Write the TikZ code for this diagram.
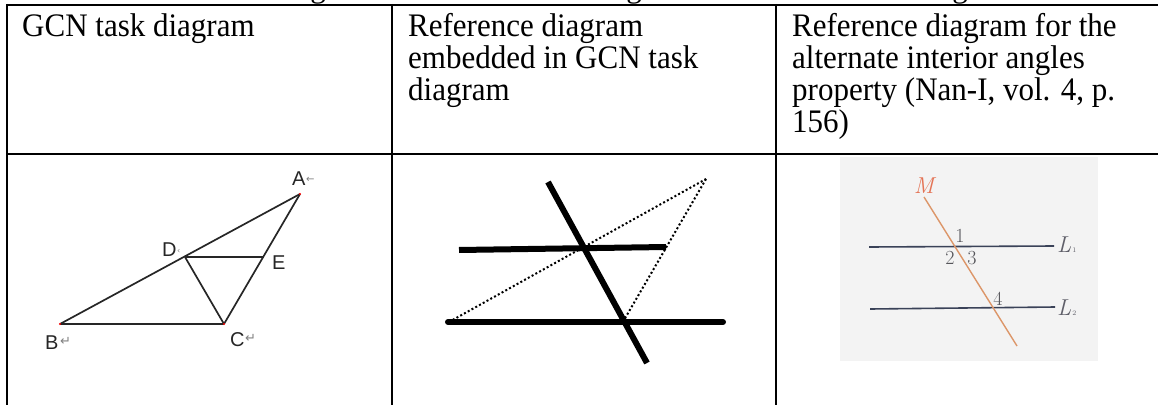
\documentclass[tikz,border=0pt]{standalone}
\usepackage{fontspec}
\setmainfont{Liberation Serif}
\newfontfamily\arialf{Liberation Sans}
\newfontfamily\djv{DejaVu Sans}
\newfontfamily\lmr{Latin Modern Roman}
\definecolor{bgpanel}{RGB}{243,243,243}
\definecolor{mline}{RGB}{220,150,105}
\definecolor{mlabel}{RGB}{228,115,85}
\definecolor{lline}{RGB}{58,66,88}
\definecolor{llabel}{RGB}{95,95,105}
\definecolor{numcol}{RGB}{85,85,90}
\begin{document}
\begin{tikzpicture}[x=1pt,y=-1pt,
  border/.style={line width=2.4pt,black},
  hdr/.style={anchor=base west,inner sep=0pt,font=\fontsize{31}{30}\selectfont,yscale=1.06},
  gline/.style={line width=1.7pt,draw=black!85},
  glabel/.style={inner sep=0pt,anchor=base west,font=\arialf\fontsize{20}{20}\selectfont,text=black!85},
  gmark/.style={inner sep=0pt,anchor=base west,font=\djv\fontsize{13}{13}\selectfont,text=black!50},
  thickbar/.style={line width=6pt,black},
  dotline/.style={line width=2pt,dash pattern=on 2pt off 2.3pt,black},
  pline/.style={line width=1.6pt,draw=lline},
  mdraw/.style={line width=1.4pt,draw=mline},
  numlab/.style={inner sep=0pt,anchor=base,font=\lmr\fontsize{20}{20}\selectfont,text=numcol},
  llab/.style={inner sep=0pt,anchor=base west,font=\lmr\itshape\fontsize{23}{23}\selectfont,text=llabel}
]
\useasboundingbox (0,0) rectangle (1158,404);
\begin{scope}
\clip (0,0) rectangle (1158,404);
% clipped descenders from the line above the table
\node[anchor=base,inner sep=0pt,font=\fontsize{31}{30}\selectfont] (g1) at (318,-2.5) {g};
\node[anchor=base,inner sep=0pt,font=\fontsize{31}{30}\selectfont] (g2) at (634,-2.5) {g};
\node[anchor=base,inner sep=0pt,font=\fontsize{31}{30}\selectfont] (g3) at (960,-2.5) {g};
% table rules
\draw[border] (6,5) -- (1170,5);
\draw[border] (6,154) -- (1170,154);
\draw[border] (7,4) -- (7,410);
\draw[border] (392,4) -- (392,410);
\draw[border] (776,4) -- (776,410);
\end{scope}

% header cells
\node[hdr] (h1) at (22,37) {\parbox[t]{360pt}{GCN task diagram}};
\node[hdr] (h2) at (408,37) {\parbox[t]{360pt}{Reference diagram\\embedded in GCN task\\diagram}};
\node[hdr] (h3) at (792,37) {\parbox[t]{360pt}{Reference diagram for the\\alternate interior angles\\property (Nan-I, vol. 4, p.\\156)}};

% ---- GCN task diagram ----
\coordinate (A) at (300,194);
\coordinate (B) at (60,324);
\coordinate (C) at (224,324);
\coordinate (D) at (185,257);
\coordinate (E) at (264,257);
\draw[gline] (B) -- (A);
\draw[gline] (B) -- (C);
\draw[gline] (D) -- (E);
\draw[gline] (D) -- (C);
\draw[gline] (C) -- (A);
\fill[red] (A) circle (1.1pt);
\fill[red] (B) circle (1.1pt);
\fill[red] (C) circle (1.1pt);
\node[glabel] (la) at (292,185) {A};
\node[gmark,font=\djv\fontsize{10}{10}\selectfont] (ma) at (306,182) {←};
\node[glabel] (ld) at (162,256) {D};
\node[gmark,font=\djv\fontsize{8}{8}\selectfont] (md) at (177,253) {‹};
\node[glabel] (le) at (272,269) {E};
\node[glabel] (lb) at (45,349) {B};
\node[gmark] (mb) at (60,345) {↵};
\node[glabel] (lc) at (230,346) {C};
\node[gmark] (mc) at (245,342) {↵};

% ---- embedded reference diagram ----
\coordinate (T1) at (548,182);
\coordinate (T2) at (647,363);
\coordinate (U1) at (459,250);
\coordinate (U2) at (666,247);
\coordinate (W1) at (448,322);
\coordinate (W2) at (723,322);
\coordinate (P) at (449,322);
\coordinate (Q) at (706,179);
\coordinate (R) at (624,320);
\draw[dotline] (P) -- (Q);
\draw[dotline] (Q) -- (R);
\draw[thickbar] (U1) -- (U2);
\draw[thickbar,line cap=round] (W1) -- (W2);
\draw[thickbar] (T1) -- (T2);

% ---- alternate interior angles reference diagram ----
\fill[bgpanel] (840,157) rectangle (1098,361);
\coordinate (L1a) at (869,247);
\coordinate (L1b) at (1054,246);
\coordinate (L2a) at (870,309);
\coordinate (L2b) at (1055,307);
\coordinate (Ma) at (924,197);
\coordinate (Mb) at (1017,346);
\draw[pline] (L1a) -- (L1b);
\draw[pline] (L2a) -- (L2b);
\draw[mdraw] (Ma) -- (Mb);
\node[inner sep=0pt,anchor=base,font=\lmr\itshape\fontsize{23}{23}\selectfont,text=mlabel] (lm) at (924,193) {M};
\node[llab] (ll1) at (1057,252) {L\kern1pt{\upshape\fontsize{7}{7}\selectfont 1}};
\node[llab] (ll2) at (1057,315) {L\kern1pt{\upshape\fontsize{7}{7}\selectfont 2}};
\node[numlab] (n1) at (960,242) {1};
\node[numlab] (n2) at (950,264) {2};
\node[numlab] (n3) at (972,264) {3};
\node[numlab] (n4) at (998,305) {4};
\end{tikzpicture}
\end{document}
